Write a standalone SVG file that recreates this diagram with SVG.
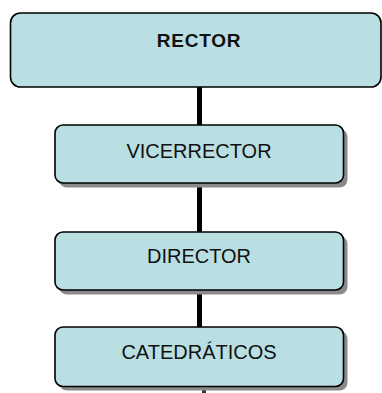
<svg xmlns="http://www.w3.org/2000/svg" width="382" height="393" viewBox="0 0 382 393">
<style>
.box{fill:#B9DFE3;stroke:#000;stroke-width:1.6}
.shadow{fill:#8a8a8a}
.lbl{font-family:"Liberation Sans",Arial,sans-serif;fill:#111;text-anchor:middle}
.conn{stroke:#000;stroke-width:5;fill:none}
</style>
<rect width="382" height="393" fill="#fff"/>
<g id="connectors">
<line class="conn" x1="199.5" y1="87" x2="199.5" y2="125"/>
<line class="conn" x1="199.5" y1="183" x2="199.5" y2="232"/>
<line class="conn" x1="199.5" y1="290" x2="199.5" y2="327"/>
<line x1="204" y1="389" x2="204" y2="393" stroke="#333" stroke-width="4"/>
</g>
<g id="rector">
<rect class="box" x="10.5" y="13" width="370.5" height="74" rx="10"/>
<text class="lbl" x="199" y="46.5" font-size="19" font-weight="bold" letter-spacing="0.8">RECTOR</text>
</g>
<g id="vicerrector">
<rect class="shadow" x="59" y="129" width="288.5" height="58.5" rx="8"/>
<rect class="box" x="55" y="125" width="288.5" height="58" rx="8"/>
<text class="lbl" x="199" y="158" font-size="20">VICERRECTOR</text>
</g>
<g id="director">
<rect class="shadow" x="59" y="236" width="288.5" height="58.5" rx="8"/>
<rect class="box" x="55" y="232" width="288.5" height="58" rx="8"/>
<text class="lbl" x="199" y="262.5" font-size="20">DIRECTOR</text>
</g>
<g id="catedraticos">
<rect class="shadow" x="59" y="331" width="288.5" height="59.5" rx="8"/>
<rect class="box" x="55" y="327" width="288.5" height="59.5" rx="8"/>
<text class="lbl" x="199" y="359" font-size="20">CATEDRÁTICOS</text>
</g>
</svg>
